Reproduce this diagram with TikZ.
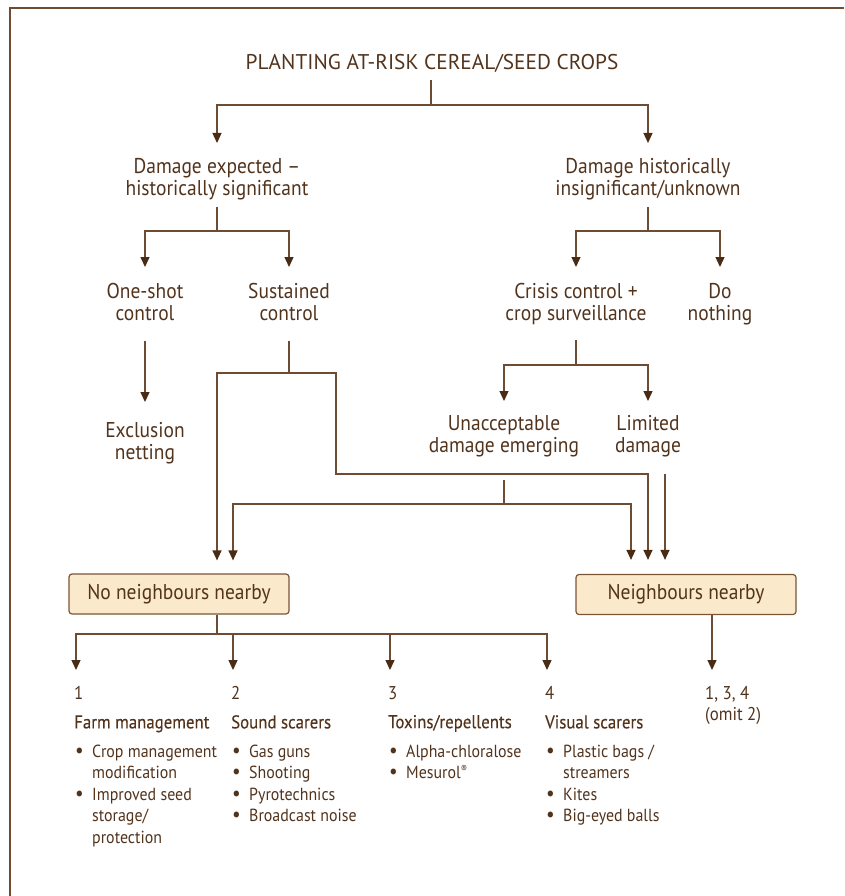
\documentclass[tikz,border=0pt]{standalone}
\usepackage{fontspec}
\setmainfont{PT Sans}[FakeStretch=0.91]
\newfontfamily\titlefont{PT Sans}
\newfontfamily\headfont{PT Sans}[FakeStretch=0.91,FakeBold=0.3]
\usetikzlibrary{arrows.meta,calc}
\definecolor{txt}{HTML}{52331C}
\definecolor{ln}{HTML}{6E4C33}
\definecolor{ah}{HTML}{4A2C14}
\definecolor{boxfill}{HTML}{FBE9CC}
\definecolor{boxline}{HTML}{7A5536}
\newcommand{\bl}[1]{\makebox[18pt][l]{\hspace{1pt}{\fontsize{21}{21.5}\selectfont •}}#1}
\newcommand{\ind}[1]{\hspace*{18pt}#1}
\newcommand{\hd}[1]{{\headfont\fontsize{18.5}{21.5}\selectfont #1}}
\newcommand{\numb}[1]{{\fontsize{18.5}{21.5}\selectfont #1}}
\begin{document}
\begin{tikzpicture}[x=1pt,y=-1pt,
  line/.style={draw=ln, line width=1.3pt},
  arr/.style={line, -{Triangle[width=9pt,length=10pt,color=ah]}},
  main/.style={align=center, text=txt, font=\fontsize{21.4}{22}\selectfont, inner sep=0pt, anchor=north},
  col/.style={align=left, text=txt, font=\fontsize{17.5}{21.5}\selectfont, inner sep=0pt, anchor=north west},
  box/.style={draw=boxline, fill=boxfill, line width=1.2pt, rounded corners=3pt, minimum width=220pt, minimum height=40pt, text=txt, font=\fontsize{21.4}{22}\selectfont, inner sep=0pt}
]
\useasboundingbox (0,0) rectangle (844,896);
% frame
\draw[draw=ln, line width=1.8pt] (10,896) -- (10,8) -- (844,8);

% nodes
\node[text=txt, font=\titlefont\fontsize{21.3}{22}\selectfont, inner sep=0pt, anchor=base] (title) at (432,70) {PLANTING AT-RISK CEREAL/SEED CROPS};
\node[main] (d1) at (217,158) {Damage expected \textendash\\historically significant};
\node[main] (d2) at (648,158) {Damage historically\\insignificant/unknown};
\node[main] (oneshot) at (145,283) {One-shot\\control};
\node[main] (sust) at (289,283) {Sustained\\control};
\node[main] (crisis) at (576,283) {Crisis control +\\crop surveillance};
\node[main] (donothing) at (720,283) {Do\\nothing};
\node[main] (excl) at (145,422) {Exclusion\\netting};
\node[main] (unacc) at (504,415) {Unacceptable\\damage emerging};
\node[main] (lim) at (648,415) {Limited\\damage};
\node[box] (nonb) at (179,594) {No neighbours nearby};
\node[box] (nb) at (686,594.5) {Neighbours nearby};

\node[col] (c1) at (74,686) {\numb{1}\\[7.5pt]\hd{Farm management}\\[7.5pt]\bl{Crop management}\\\ind{modification}\\\bl{Improved seed}\\\ind{storage/}\\\ind{protection}};
\node[col] (c2) at (231,686) {\numb{2}\\[7.5pt]\hd{Sound scarers}\\[7.5pt]\bl{Gas guns}\\\bl{Shooting}\\\bl{Pyrotechnics}\\\bl{Broadcast noise}};
\node[col] (c3) at (388,686) {\numb{3}\\[7.5pt]\hd{Toxins/repellents}\\[7.5pt]\bl{Alpha-chloralose}\\\bl{Mesurol\raisebox{6pt}{\fontsize{10}{10}\selectfont ®}}};
\node[col] (c4) at (545,686) {\numb{4}\\[7.5pt]\hd{Visual scarers}\\[7.5pt]\bl{Plastic bags /}\\\ind{streamers}\\\bl{Kites}\\\bl{Big-eyed balls}};
\node[col, font=\fontsize{18.5}{21.5}\selectfont] (c5) at (705,686) {1, 3, 4\\(omit 2)};

% junctions
\coordinate (jt) at (431,105);
\coordinate (j1) at (217,231);
\coordinate (j2) at (648,231);
\coordinate (js) at (289,373);
\coordinate (k1) at (336,474);
\coordinate (jc) at (576,365);
\coordinate (ju) at (504,504);
\coordinate (bus) at (217,634);

% connectors
\draw[arr, shorten >=15pt] ($(title.base)+(-1,10)$) -- (jt) -| (d1.north);
\draw[arr, shorten >=15pt] ($(title.base)+(-1,10)$) -- (jt) -| (d2.north);
\draw[arr, shorten <=7pt, shorten >=16pt] (d1.south) -- (j1) -| (oneshot.north);
\draw[arr, shorten <=7pt, shorten >=16pt] (d1.south) -- (j1) -| (sust.north);
\draw[arr, shorten <=7pt, shorten >=16pt] (d2.south) -- (j2) -| (crisis.north);
\draw[arr, shorten <=7pt, shorten >=16pt] (d2.south) -- (j2) -| (donothing.north);
\draw[arr, shorten <=20pt, shorten >=20pt] (oneshot.south) -- (excl.north);
\draw[arr, shorten <=20pt, shorten >=13pt] (sust.south) -- (js) -| (d1 |- nonb.north);
\draw[arr, shorten <=20pt, shorten >=14pt] (sust.south) -- (js) -| (k1) -| (d2 |- nb.north);
\draw[arr, shorten <=15pt, shorten >=14pt] (crisis.south) -- (jc) -| (unacc.north);
\draw[arr, shorten <=15pt, shorten >=14pt] (crisis.south) -- (jc) -| (lim.north);
\draw[arr, shorten <=23pt, shorten >=13pt] (unacc.south) -- (ju) -| ($(nonb.north)+(54,0)$);
\draw[arr, shorten <=23pt, shorten >=14pt] (unacc.south) -- (ju) -| ($(nb.north)+(-55,0)$);
\draw[arr, shorten <=17pt, shorten >=14pt] ($(lim.south)+(17,0)$) -- ($(nb.north)+(-21,0)$);
\draw[line] (d1 |- nonb.south) -- (bus);
\draw[arr, shorten >=16pt] (bus) -| ($(c1.north west)+(2,0)$);
\draw[arr, shorten >=16pt] (bus) -| ($(c2.north west)+(2,0)$);
\draw[arr, shorten >=16pt] (bus) -| ($(c3.north west)+(2,0)$);
\draw[arr, shorten >=16pt] (bus) -| ($(c4.north west)+(2,0)$);
\draw[arr, shorten >=16pt] ($(nb.south)+(26,0)$) -- ($(c5.north west)+(7,0)$);
\end{tikzpicture}
\end{document}
